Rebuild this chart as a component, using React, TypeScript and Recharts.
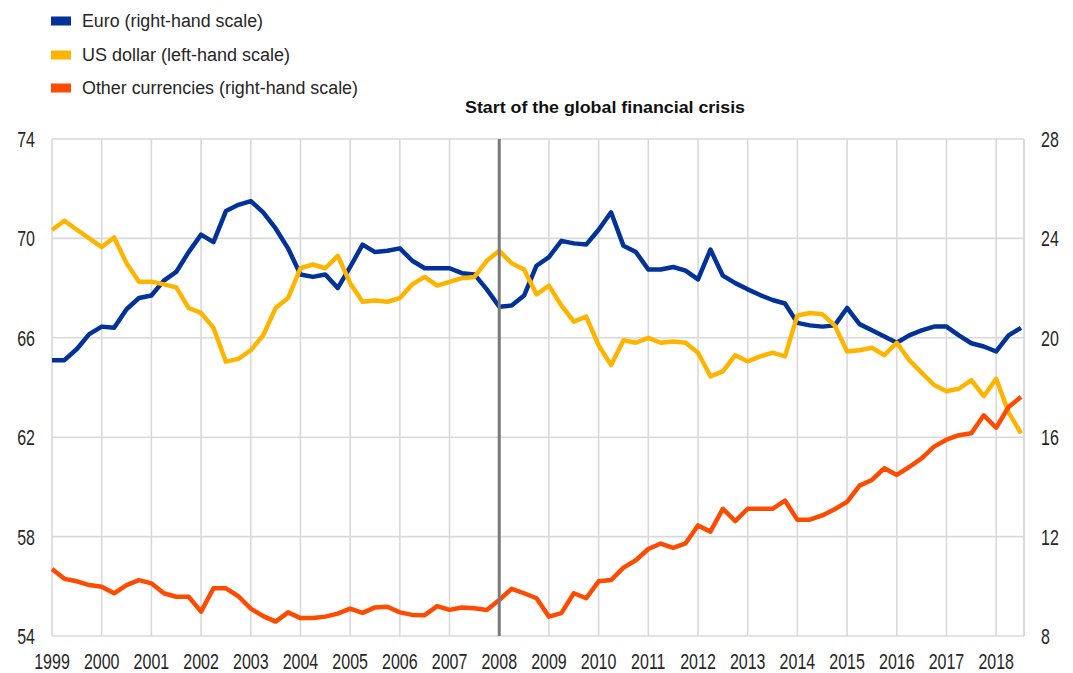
import React from 'react';
import { LineChart, Line, XAxis, YAxis, CartesianGrid, ReferenceLine } from 'recharts';

// ---- Data ----
const years = [1999, 2000, 2001, 2002, 2003, 2004, 2005, 2006, 2007, 2008, 2009, 2010, 2011, 2012, 2013, 2014, 2015, 2016, 2017, 2018];
const quarterNames = ['Q1', 'Q2', 'Q3', 'Q4'];
const lastQuarter = '2018Q3';

const usdLeft = [
  70.34, 70.71, 70.35, 70.0,
  69.65, 70.04, 69.0, 68.26,
  68.26, 68.15, 68.03, 67.2,
  67.0, 66.4, 65.04, 65.15,
  65.5, 66.1, 67.2, 67.6,
  68.8, 68.95, 68.8, 69.3,
  68.2, 67.45, 67.5, 67.45,
  67.6, 68.15, 68.45, 68.1,
  68.25, 68.4, 68.45, 69.1,
  69.5, 69.0, 68.75, 67.75,
  68.1, 67.3, 66.65, 66.85,
  65.7, 64.9, 65.9, 65.8,
  66.0, 65.8, 65.85, 65.8,
  65.4, 64.45, 64.65, 65.3,
  65.05, 65.25, 65.4, 65.25,
  66.9, 67.0, 66.95, 66.5,
  65.45, 65.5, 65.6, 65.3,
  65.8, 65.1, 64.6, 64.1,
  63.85, 63.95, 64.3, 63.65,
  64.35, 63.0, 62.15,
];

const euroRight = [
  19.1, 19.1, 19.55, 20.15,
  20.45, 20.4, 21.15, 21.6,
  21.7, 22.3, 22.65, 23.45,
  24.15, 23.85, 25.1, 25.35,
  25.5, 25.05, 24.4, 23.6,
  22.55, 22.45, 22.55, 22.0,
  22.85, 23.75, 23.45, 23.5,
  23.6, 23.1, 22.8, 22.8,
  22.8, 22.6, 22.55, 21.95,
  21.25, 21.3, 21.7, 22.9,
  23.25, 23.9, 23.8, 23.75,
  24.35, 25.05, 23.7, 23.45,
  22.75, 22.75, 22.85, 22.7,
  22.35, 23.55, 22.5, 22.2,
  21.95, 21.72, 21.52, 21.38,
  20.6, 20.5, 20.45, 20.5,
  21.2, 20.55, 20.3, 20.05,
  19.8, 20.1, 20.3, 20.45,
  20.45, 20.1, 19.78, 19.65,
  19.45, 20.1, 20.4,
];

const otherRight = [
  10.7, 10.3, 10.2, 10.05,
  9.98, 9.72, 10.05, 10.25,
  10.12, 9.72, 9.58, 9.58,
  8.98, 9.92, 9.92, 9.6,
  9.1, 8.8, 8.58, 8.95,
  8.72, 8.72, 8.78, 8.9,
  9.1, 8.93, 9.15, 9.18,
  8.95, 8.85, 8.84, 9.2,
  9.05, 9.15, 9.12, 9.05,
  9.45, 9.9, 9.72, 9.52,
  8.78, 8.92, 9.72, 9.52,
  10.2, 10.25, 10.75, 11.05,
  11.5, 11.72, 11.55, 11.73,
  12.45, 12.2, 13.12, 12.62,
  13.12, 13.12, 13.12, 13.45,
  12.68, 12.68, 12.85, 13.1,
  13.4, 14.05, 14.28, 14.75,
  14.48, 14.8, 15.15, 15.62,
  15.9, 16.08, 16.16, 16.88,
  16.38, 17.22, 17.62,
];

const leftTicks = [54, 58, 62, 66, 70, 74];
const rightTicks = [8, 12, 16, 20, 24, 28];
const crisisYear = 2008;
const xDomainEnd = 2018.56;

const seriesNames = {
  euro: 'Euro (right-hand scale)',
  usd: 'US dollar (left-hand scale)',
  other: 'Other currencies (right-hand scale)',
};
const crisisLabel = 'Start of the global financial crisis';

// ---- Build table ----
const quarters: { label: string; t: number }[] = [];
for (const y of years) {
  quarterNames.forEach((q, qi) => {
    const label = `${y}${q}`;
    if (quarters.length && quarters[quarters.length - 1].label === lastQuarter) return;
    quarters.push({ label, t: y + qi / 4 });
  });
}
const data = quarters.map((q, i) => ({
  t: q.t,
  label: q.label,
  usd: usdLeft[i],
  euro: euroRight[i],
  other: otherRight[i],
}));

const COLORS = { euro: '#003299', usd: '#FFB400', other: '#FF4B00' };
const GRID = '#d9d9d9';
const TEXT = '#262626';
const FONT = '"Liberation Sans", Arial, sans-serif';

const XTick = (props: any) => {
  const { x, y, payload } = props;
  return (
    <text
      transform={`translate(${x},${y + 25}) scale(1,1.4)`}
      textAnchor="middle"
      dominantBaseline="central"
      fontSize={16}
      fontFamily={FONT}
      fill={TEXT}
    >
      {payload.value}
    </text>
  );
};

const LeftTick = (props: any) => {
  const { x, y, payload } = props;
  return (
    <text
      transform={`translate(${x - 17},${y}) scale(1,1.4)`}
      textAnchor="end"
      dominantBaseline="central"
      fontSize={16}
      fontFamily={FONT}
      fill={TEXT}
    >
      {payload.value}
    </text>
  );
};

const RightTick = (props: any) => {
  const { x, y, payload } = props;
  return (
    <text
      transform={`translate(${x + 17},${y}) scale(1,1.4)`}
      textAnchor="start"
      dominantBaseline="central"
      fontSize={16}
      fontFamily={FONT}
      fill={TEXT}
    >
      {payload.value}
    </text>
  );
};

const legendRows = [
  { key: 'euro', y: 21, width: 181 },
  { key: 'usd', y: 55, width: 208 },
  { key: 'other', y: 88, width: 276 },
] as const;

export default function App() {
  return (
    <div style={{ position: 'absolute', left: 0, top: 0, width: 1073, height: 673, background: '#fff' }}>
      <LineChart
        width={1073}
        height={673}
        data={data}
        margin={{ top: 139, right: 0, bottom: 7, left: 0 }}
      >
        <CartesianGrid yAxisId="left" stroke={GRID} strokeWidth={1.6} />
        <XAxis
          dataKey="t"
          type="number"
          domain={[1999, xDomainEnd]}
          ticks={years}
          interval={0}
          height={30}
          axisLine={false}
          tickLine={false}
          tickSize={0}
          tickMargin={0}
          tick={<XTick />}
        />
        <YAxis
          yAxisId="left"
          orientation="left"
          domain={[54, 74]}
          ticks={leftTicks}
          interval={0}
          width={52}
          axisLine={false}
          tickLine={false}
          tickSize={0}
          tickMargin={0}
          tick={<LeftTick />}
        />
        <YAxis
          yAxisId="right"
          orientation="right"
          domain={[8, 28]}
          ticks={rightTicks}
          interval={0}
          width={49}
          axisLine={false}
          tickLine={false}
          tickSize={0}
          tickMargin={0}
          tick={<RightTick />}
        />
        <ReferenceLine yAxisId="left" x={xDomainEnd} stroke={GRID} strokeWidth={1.6} />
        <Line
          yAxisId="right"
          dataKey="euro"
          name={seriesNames.euro}
          type="linear"
          stroke={COLORS.euro}
          strokeWidth={4.5}
          strokeLinejoin="round"
          dot={false}
          isAnimationActive={false}
        />
        <Line
          yAxisId="left"
          dataKey="usd"
          name={seriesNames.usd}
          type="linear"
          stroke={COLORS.usd}
          strokeWidth={4.5}
          strokeLinejoin="round"
          dot={false}
          isAnimationActive={false}
        />
        <Line
          yAxisId="right"
          dataKey="other"
          name={seriesNames.other}
          type="linear"
          stroke={COLORS.other}
          strokeWidth={4.5}
          strokeLinejoin="round"
          dot={false}
          isAnimationActive={false}
        />
        <ReferenceLine yAxisId="left" x={crisisYear} stroke="#7a7a7a" strokeWidth={3} />
      </LineChart>
      <svg
        width={1073}
        height={130}
        style={{ position: 'absolute', left: 0, top: 0, pointerEvents: 'none' }}
      >
        {legendRows.map((r) => (
          <g key={r.key}>
            <rect x={51} y={r.y - 4.5} width={20} height={9} fill={COLORS[r.key]} />
            <text
              x={82}
              y={r.y}
              dominantBaseline="central"
              fontSize={18}
              fontFamily={FONT}
              fill={TEXT}
              textLength={r.width}
              lengthAdjust="spacingAndGlyphs"
            >
              {seriesNames[r.key]}
            </text>
          </g>
        ))}
        <text
          x={465}
          y={107}
          dominantBaseline="central"
          fontSize={16}
          fontWeight="bold"
          fontFamily={FONT}
          fill="#111"
          textLength={280}
          lengthAdjust="spacingAndGlyphs"
        >
          {crisisLabel}
        </text>
      </svg>
    </div>
  );
}
